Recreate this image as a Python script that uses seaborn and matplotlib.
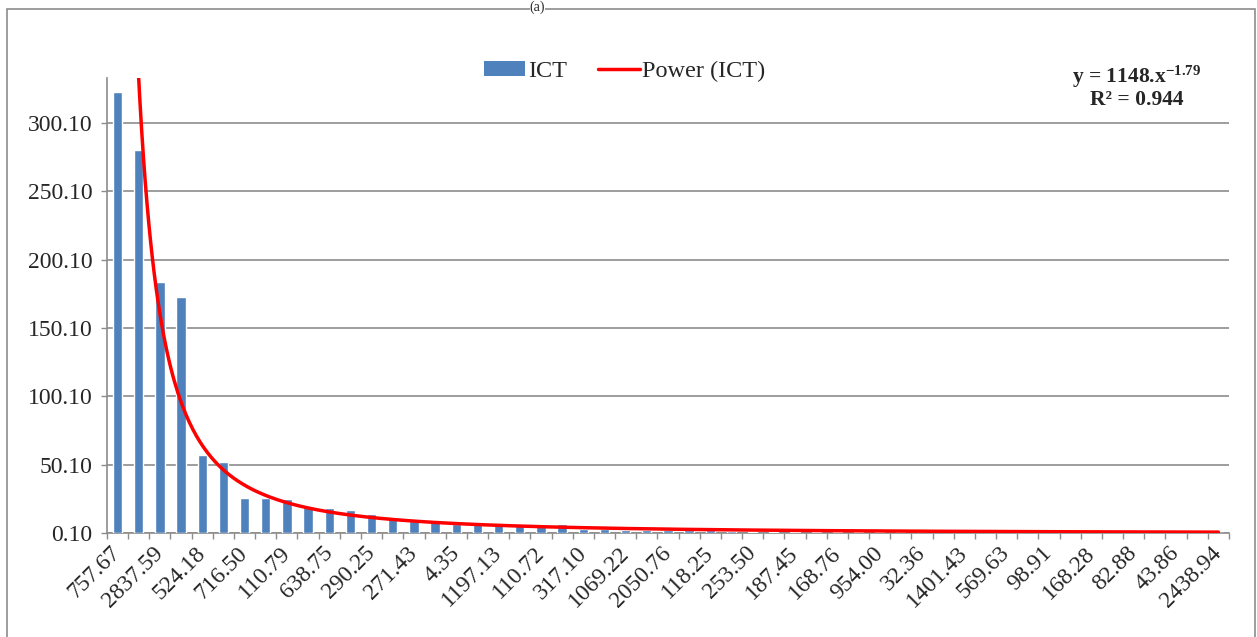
import numpy as np
import pandas as pd
import matplotlib
matplotlib.use("Agg")
import matplotlib.pyplot as plt
import seaborn as sns
from matplotlib.patches import Patch, Rectangle
from matplotlib.lines import Line2D

# ----------------------------
# data
# ----------------------------
ict_values = [322.5, 280.0, 184.0, 173.0, 57.0, 52.0, 26.0, 26.0, 25.0, 19.5,
              18.5, 17.0, 14.0, 11.0, 9.0, 8.0, 7.2, 6.8, 6.8, 6.5,
              6.5, 7.0, 3.2, 2.9, 2.5, 2.5, 2.5, 2.5, 2.5, 2.0,
              1.3, 1.2, 1.2, 1.2, 1.2, 1.2, 1.2, 1.2, 1.2, 2.0,
              1.0, 0.8, 0.8, 0.7, 0.7, 0.7, 0.6, 0.4, 0.3, 0.3,
              0.3, 0.2, 0.2]

# only every other category label is printed on the axis
shown_labels = ["757.67", "2837.59", "524.18", "716.50", "110.79", "638.75",
                "290.25", "271.43", "4.35", "1197.13", "110.72", "317.10",
                "1069.22", "2050.76", "118.25", "253.50", "187.45", "168.76",
                "954.00", "32.36", "1401.43", "569.63", "98.91", "168.28",
                "82.88", "43.86", "2438.94"]

y_ticks = [0.10, 50.10, 100.10, 150.10, 200.10, 250.10, 300.10]

# power trendline shown on the chart: y = 1148 * x^-1.79, R^2 = 0.944
trend_a = 1148
trend_b = -1.79

BAR_COLOR = "#4F81BD"
LINE_COLOR = "#FF0000"
GRID_COLOR = "#8C8C8C"

n = len(ict_values)
df = pd.DataFrame({"pos": np.arange(n), "ICT": ict_values})

trend_x = np.linspace(1, n, 600)
trend_df = pd.DataFrame({"pos": trend_x - 1, "trend": trend_a * trend_x ** trend_b})

sns.set_theme(style="white")
plt.rcParams["font.family"] = ["Liberation Serif", "DejaVu Serif"]
plt.rcParams["mathtext.fontset"] = "custom"
plt.rcParams["mathtext.rm"] = "Liberation Serif:bold"
plt.rcParams["mathtext.bf"] = "Liberation Serif:bold"
plt.rcParams["mathtext.it"] = "Liberation Serif:italic"

fig = plt.figure(figsize=(12.57, 6.37), dpi=100)
ax = fig.add_axes([0.0851, 0.1628, 0.8926, 0.7148])

sns.barplot(data=df, x="pos", y="ICT", color=BAR_COLOR, width=0.44,
            saturation=1, ax=ax, zorder=3)
sns.lineplot(data=trend_df, x="pos", y="trend", color=LINE_COLOR,
             linewidth=2.5, ax=ax, zorder=4)

ax.set_xlim(-0.5, n - 0.5)
ax.set_ylim(0.10, 332.8)

# y axis
ax.set_yticks(y_ticks)
ax.set_yticklabels([f"{v:.2f}" for v in y_ticks], fontsize=17)
ax.yaxis.grid(True, color=GRID_COLOR, linewidth=1.2, zorder=0)
ax.tick_params(axis="y", direction="out", length=4.5, width=1,
               color=GRID_COLOR, pad=6, left=True)

# x axis: labels on every other category, tick marks between categories
ax.set_xticks(np.arange(n))
labels = []
for i in range(n):
    labels.append(shown_labels[i // 2] if i % 2 == 0 else "")
ax.set_xticklabels(labels, rotation=45, ha="right", va="center",
                   rotation_mode="anchor", fontsize=17)
ax.set_xticks(np.arange(n + 1) - 0.5, minor=True)
ax.tick_params(axis="x", which="major", length=0, pad=12)
ax.tick_params(axis="x", which="minor", direction="out", length=4.5,
               width=1, color=GRID_COLOR, bottom=True)
ax.set_xlabel("")
ax.set_ylabel("")

for side in ["top", "right"]:
    ax.spines[side].set_visible(False)
for side in ["left", "bottom"]:
    ax.spines[side].set_color(GRID_COLOR)
    ax.spines[side].set_linewidth(1.2)

# legend
handles = [Patch(facecolor=BAR_COLOR, edgecolor="none", label="ICT"),
           Line2D([0], [0], color=LINE_COLOR, linewidth=2.5, label="Power (ICT)")]
fig.legend(handles=handles, loc="center", bbox_to_anchor=(0.497, 0.888),
           ncol=2, frameon=False, fontsize=17.5, handlelength=1.7,
           handleheight=0.55, handletextpad=0.1, columnspacing=1.3)

# trendline equation
fig.text(0.9045, 0.879, r"y = 1148.x$^{-1.79}$", ha="center", va="center",
         fontsize=15.5, fontweight="bold")
fig.text(0.9045, 0.843, "R² = 0.944", ha="center", va="center",
         fontsize=15.5, fontweight="bold")

# chart title at the top edge
fig.text(0.4275, 0.9995, "(a)", ha="center", va="top", fontsize=10,
         bbox=dict(facecolor="white", edgecolor="none", pad=0))

# chart area border
fig.patches.append(Rectangle((0.0056, -0.01), 0.9925, 0.996, transform=fig.transFigure,
                             fill=False, edgecolor=GRID_COLOR, linewidth=1.2, zorder=0))

fig.savefig("out.png", dpi=100)
